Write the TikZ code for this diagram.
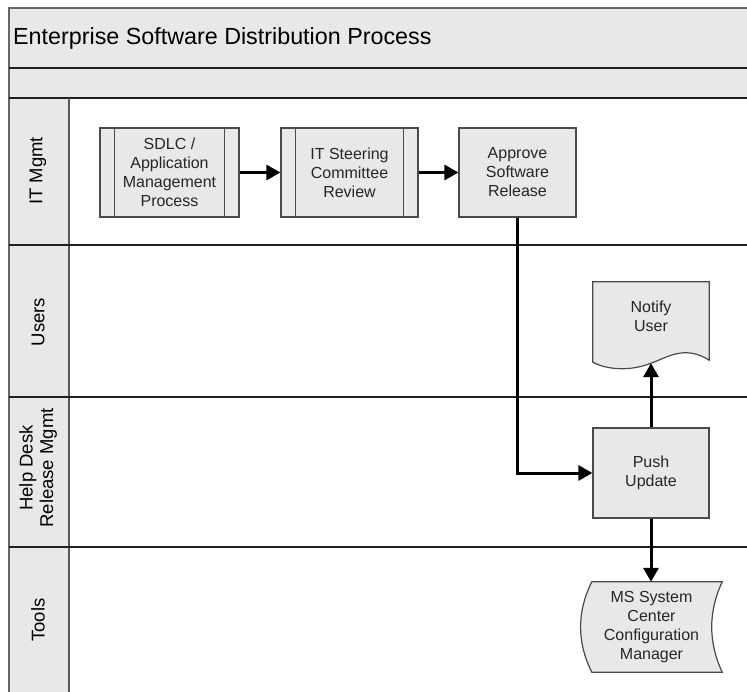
\documentclass[tikz,border=0pt]{standalone}
\usepackage{fontspec}
\setmainfont{Liberation Sans}
\usepackage{tikz}
\usetikzlibrary{arrows.meta, positioning, backgrounds}
\definecolor{lanefill}{HTML}{E8E8E8}
\definecolor{edgegray}{HTML}{4A4A4A}
\definecolor{textgray}{HTML}{262626}

\begin{document}
\begin{tikzpicture}[x=1pt,y=-1pt,
		lane/.style={line width=1.5pt,color=black!88},
		procbox/.style={draw=edgegray,line width=1.2pt,fill=lanefill,align=center,text=textgray,
			minimum height=89pt,inner sep=2pt,font=\fontsize{16}{19}\selectfont},
		shapetext/.style={align=center,text=textgray,inner sep=2pt,font=\fontsize{16}{19}\selectfont},
		shapeline/.style={draw=edgegray,line width=1.2pt,fill=lanefill},
		lanelabel/.style={rotate=90,align=center,font=\fontsize{18.5}{20.5}\selectfont},
		flow/.style={line width=3pt,-{Triangle[length=14pt,width=15pt]}}]
	\useasboundingbox (0,0) rectangle (747,692);
	\fill[lanefill] (9,8) rectangle (747,98);
	\fill[lanefill] (9,98) rectangle (69,692);
	\draw[lane,color=gray!80!black] (747,8) -- (9,8) -- (9,692);
	\draw[lane] (9,68) -- (747,68);
	\draw[lane] (9,98) -- (747,98);
	\draw[lane,color=gray!70!black] (69,98) -- (69,692);
	\foreach \y in {245,397,547}
		\draw[lane] (9,\y) -- (747,\y);
	\node[anchor=west,inner sep=0pt,font=\fontsize{23.3}{27}\selectfont] (title) at (13,38) {Enterprise Software Distribution Process};
	\node[lanelabel] (itlab) at (38,171) {IT Mgmt};
	\node[lanelabel] (userlab) at (38,322) {Users};
	\node[lanelabel] (helplab) at (38,468) {Help Desk\\Release Mgmt};
	\node[lanelabel] (toollab) at (38,620) {Tools};
	\node[procbox,minimum width=139pt] (sdlc) at (169.5,172.5) {SDLC /\\Application\\Management\\Process};
	\node[procbox,minimum width=137pt] (steer) at (349.5,172.5) {IT Steering\\Committee\\Review};
	\node[procbox,minimum width=117pt] (approve) at (517.5,172.5) {Approve\\Software\\Release};
	\foreach \b in {sdlc,steer} {
		\draw[edgegray,line width=1.2pt] ([xshift=15pt]\b.north west) -- ([xshift=15pt]\b.south west);
		\draw[edgegray,line width=1.2pt] ([xshift=-15pt]\b.north east) -- ([xshift=-15pt]\b.south east);
	}
	\node[procbox,minimum width=116pt,minimum height=90pt] (push) at (651,473) {Push\\Update};
	\node[shapetext,minimum width=116pt,minimum height=68pt] (notify) at (651,316) {Notify\\User};
	\node[shapetext,minimum width=141pt,minimum height=90pt] (msscm) at (651.5,627) {MS System\\Center\\Configuration\\Manager};
	\begin{scope}[on background layer]
		\draw[shapeline] (notify.north west) -- (notify.north east) -- ([yshift=-10pt]notify.south east)
			.. controls +(-25,-16) and +(15,-5) .. ([yshift=-13pt]notify.south)
			.. controls +(-20,8) and +(15,8) .. ([yshift=-12pt]notify.south west) -- cycle;
		\draw[shapeline] ([xshift=11pt]msscm.north west) -- (msscm.north east)
			.. controls +(-14,30) and +(-14,-30) .. (msscm.south east) -- ([xshift=11pt]msscm.south west)
			.. controls +(-15,-30) and +(-15,30) .. ([xshift=11pt]msscm.north west) -- cycle;
	\end{scope}
	\draw[flow] (sdlc) -- (steer);
	\draw[flow] (steer) -- (approve);
	\draw[flow] (approve.south) |- (push.west);
	\draw[flow] (push.north) -- ([yshift=-13pt]notify.south);
	\draw[flow] (push.south) -- (push.south |- msscm.north);
\end{tikzpicture}
\end{document}
